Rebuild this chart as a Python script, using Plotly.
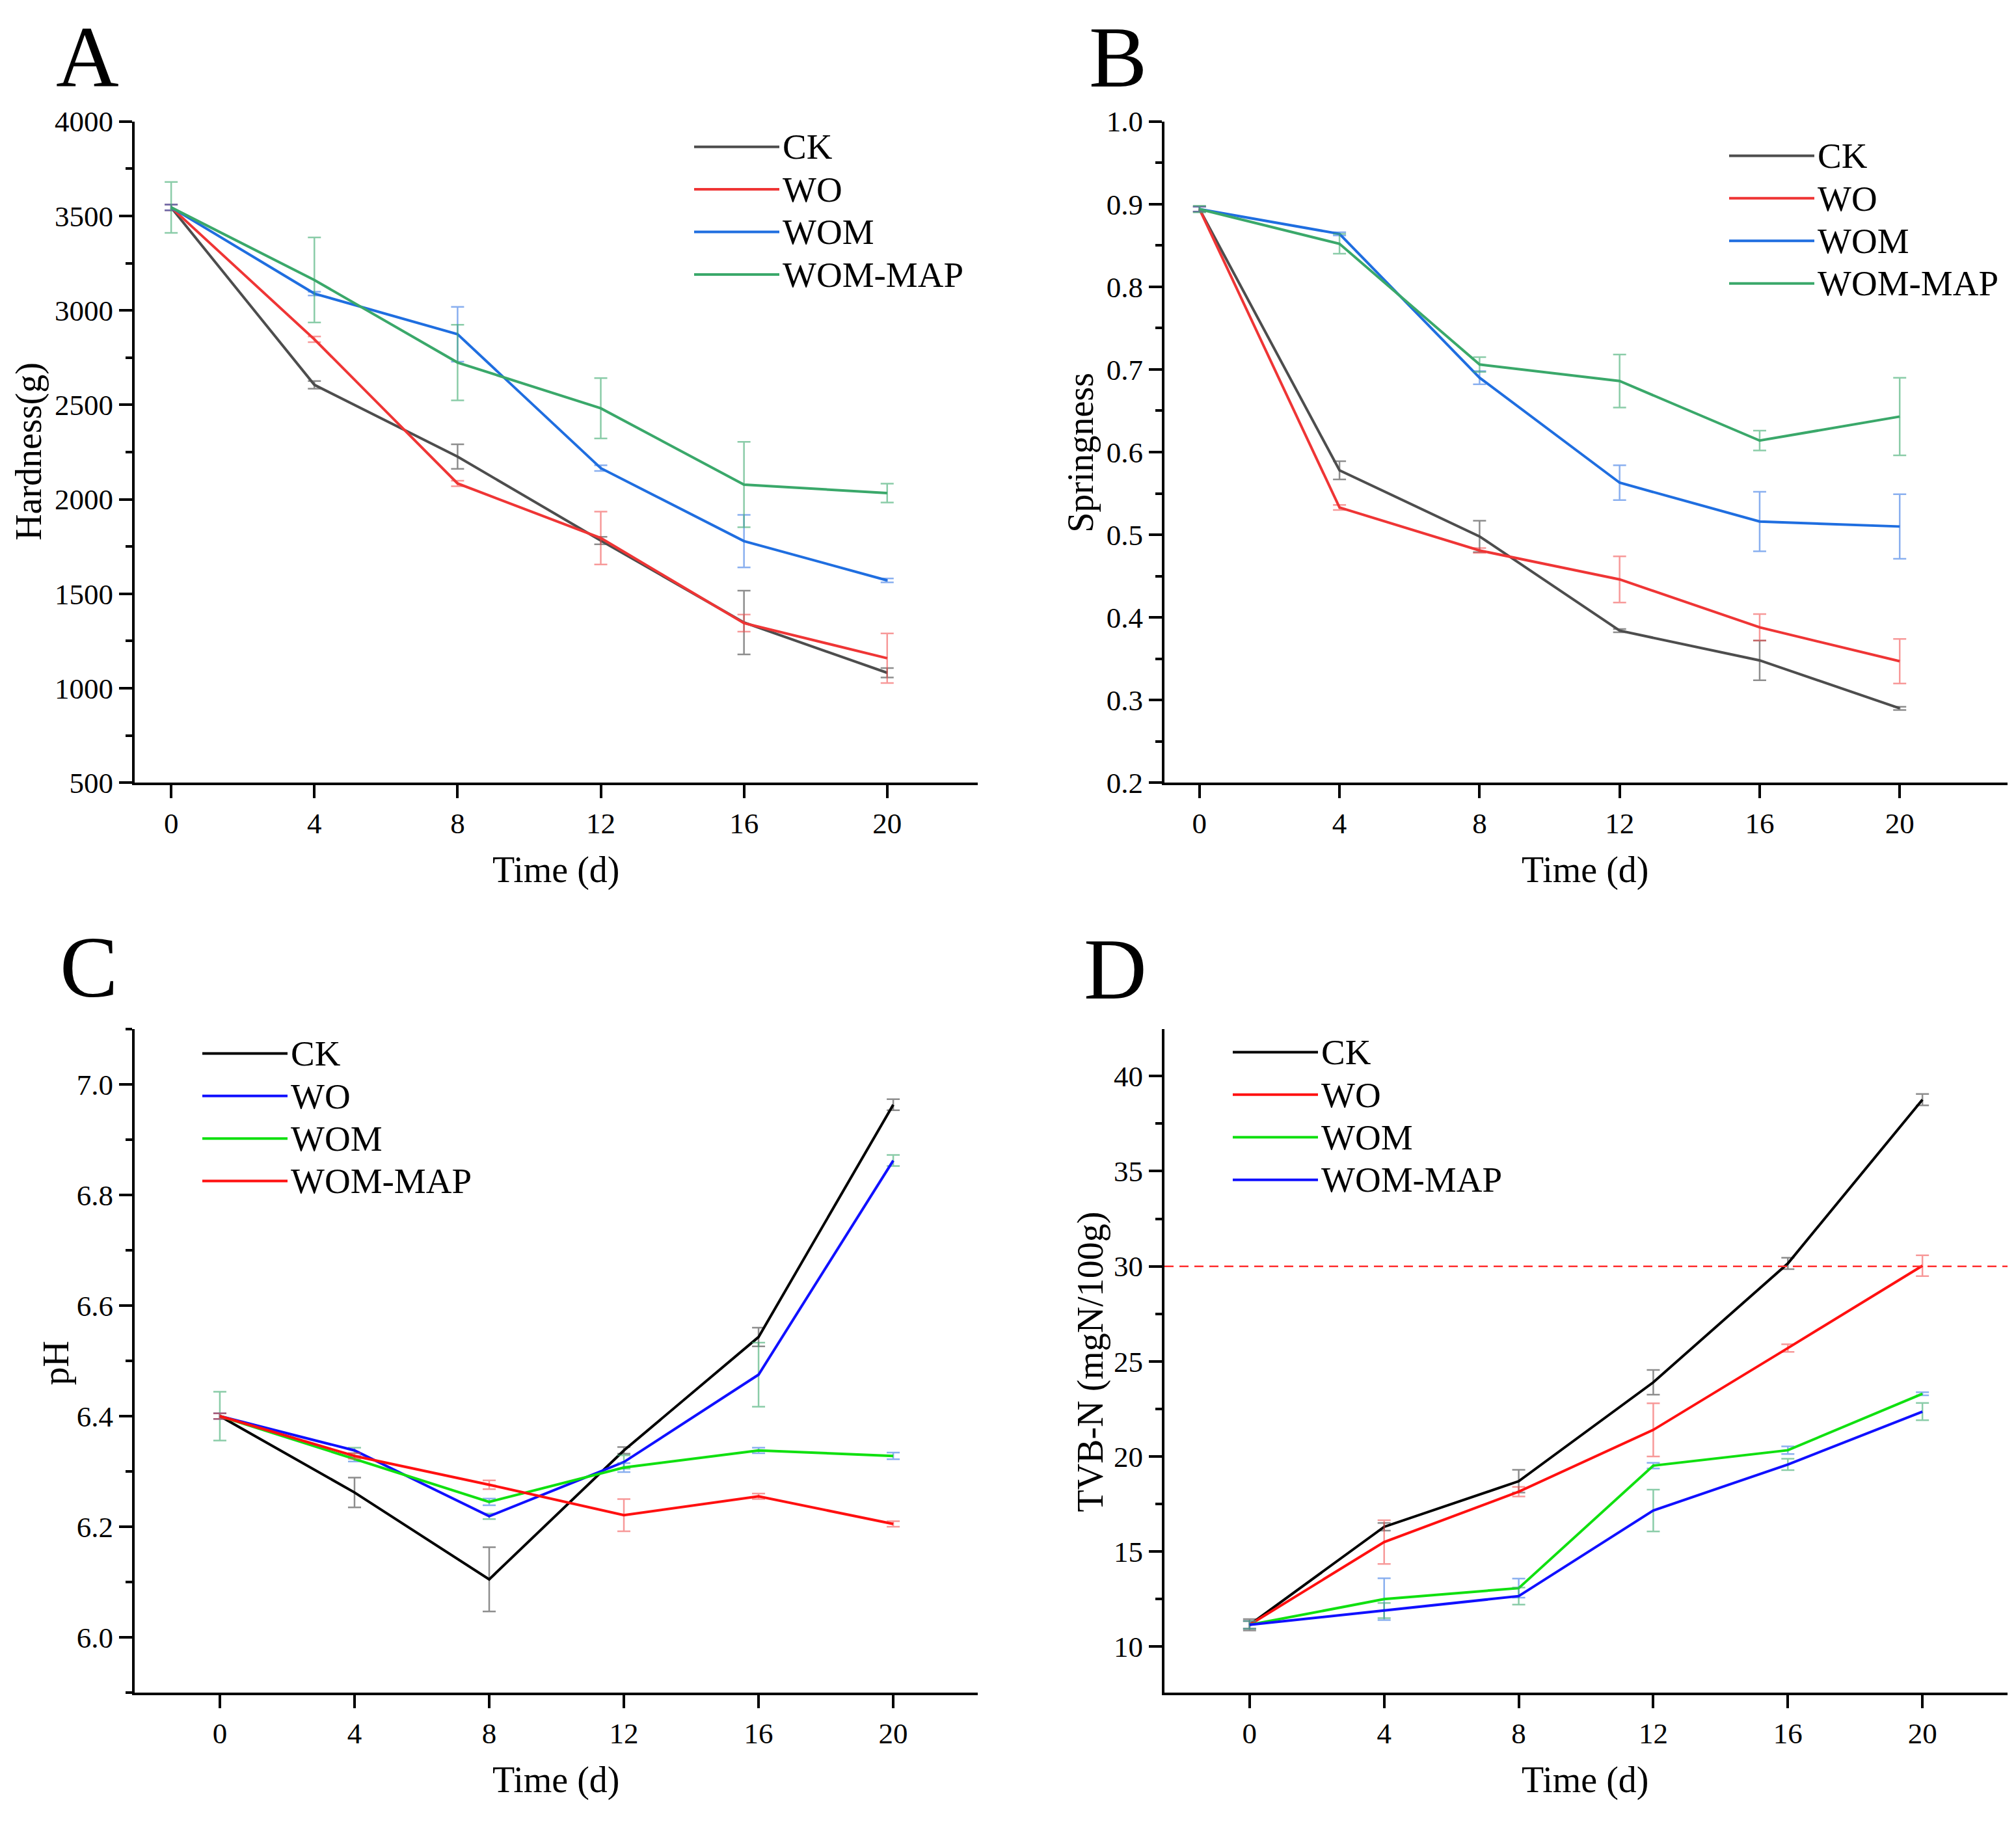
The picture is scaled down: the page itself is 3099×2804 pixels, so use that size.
import plotly.graph_objects as go

W, H = 3099, 2804
FONT = "Liberation Serif"

days = [0, 4, 8, 12, 16, 20]
groups = ["CK", "WO", "WOM", "WOM-MAP"]

# Panel A - Hardness (g)
hard_ck = [3545, 2606, 2226, 1782, 1348, 1082]
hard_ck_err = [15, 20, 65, 20, 169, 25]
hard_wo = [3545, 2847, 2084, 1795, 1345, 1159]
hard_wo_err = [15, 15, 15, 140, 45, 131]
hard_wom = [3545, 3089, 2874, 2165, 1779, 1571]
hard_wom_err = [15, 10, 145, 15, 139, 10]
hard_map = [3545, 3161, 2724, 2482, 2078, 2033]
hard_map_err = [135, 225, 200, 160, 226, 50]

# Panel B - Springness
spr_ck = [0.894, 0.578, 0.498, 0.384, 0.348, 0.290]
spr_ck_err = [0.003, 0.011, 0.019, 0.002, 0.024, 0.002]
spr_wo = [0.894, 0.533, 0.481, 0.446, 0.388, 0.347]
spr_wo_err = [0.003, 0.003, 0.003, 0.028, 0.016, 0.027]
spr_wom = [0.894, 0.864, 0.690, 0.563, 0.516, 0.510]
spr_wom_err = [0.003, 0.002, 0.008, 0.021, 0.036, 0.039]
spr_map = [0.894, 0.852, 0.706, 0.686, 0.614, 0.643]
spr_map_err = [0.004, 0.012, 0.009, 0.032, 0.012, 0.047]

# Panel C - pH
ph_ck = [6.400, 6.262, 6.105, 6.338, 6.543, 6.963]
ph_ck_err = [0.005, 0.027, 0.058, 0.006, 0.017, 0.010]
ph_wo = [6.400, 6.338, 6.219, 6.317, 6.475, 6.862]
ph_wo_err = [0.044, 0.005, 0.005, 0.012, 0.058, 0.010]
ph_wom = [6.400, 6.323, 6.245, 6.307, 6.338, 6.328]
ph_wom_err = [0.005, 0.005, 0.006, 0.008, 0.005, 0.006]
ph_map = [6.400, 6.328, 6.276, 6.221, 6.255, 6.205]
ph_map_err = [0.005, 0.005, 0.008, 0.029, 0.005, 0.005]

# Panel D - TVB-N (mgN/100g)
tvb_ck = [11.15, 16.3, 18.7, 23.9, 30.15, 38.76]
tvb_ck_err = [0.3, 0.2, 0.6, 0.65, 0.3, 0.3]
tvb_wo = [11.15, 15.5, 18.15, 21.4, 25.7, 30.03]
tvb_wo_err = [0.2, 1.15, 0.25, 1.4, 0.2, 0.55]
tvb_wom = [11.15, 12.5, 13.08, 19.52, 20.33, 23.3]
tvb_wom_err = [0.2, 1.1, 0.5, 0.15, 0.2, 0.08]
tvb_map = [11.15, 11.9, 12.66, 17.16, 19.58, 22.36]
tvb_map_err = [0.2, 0.4, 0.45, 1.1, 0.3, 0.45]
tvb_limit = 30

# colours
GRAY, RED1, BLUE1, GREEN1 = "#4d4d4d", "#ef3535", "#1f6ee0", "#3aa86a"
E_GRAY, E_RED, E_BLUE, E_GREEN = ("rgba(80,80,80,0.65)", "rgba(240,70,70,0.55)",
                                  "rgba(40,110,225,0.55)", "rgba(60,170,110,0.6)")
BLACK, BLUE2, GREEN2, RED2 = "#000000", "#1010ff", "#10e010", "#ff1010"


def px(x):
    return x / W


def py(y):
    return 1 - y / H


fig = go.Figure()

panels = [
    dict(xa="x", ya="y", leg="legend",
         series=[(hard_ck, hard_ck_err, GRAY, E_GRAY), (hard_wo, hard_wo_err, RED1, E_RED),
                 (hard_wom, hard_wom_err, BLUE1, E_BLUE), (hard_map, hard_map_err, GREEN1, E_GREEN)]),
    dict(xa="x2", ya="y2", leg="legend2",
         series=[(spr_ck, spr_ck_err, GRAY, E_GRAY), (spr_wo, spr_wo_err, RED1, E_RED),
                 (spr_wom, spr_wom_err, BLUE1, E_BLUE), (spr_map, spr_map_err, GREEN1, E_GREEN)]),
    dict(xa="x3", ya="y3", leg="legend3",
         series=[(ph_ck, ph_ck_err, BLACK, E_GRAY), (ph_wo, ph_wo_err, BLUE2, E_GREEN),
                 (ph_wom, ph_wom_err, GREEN2, E_BLUE), (ph_map, ph_map_err, RED2, E_RED)]),
    dict(xa="x4", ya="y4", leg="legend4",
         series=[(tvb_ck, tvb_ck_err, BLACK, E_GRAY), (tvb_wo, tvb_wo_err, RED2, E_RED),
                 (tvb_wom, tvb_wom_err, GREEN2, E_BLUE), (tvb_map, tvb_map_err, BLUE2, E_GREEN)]),
]

for p in panels:
    for name, (vals, errs, col, ecol) in zip(groups, p["series"]):
        fig.add_trace(go.Scatter(
            x=days, y=vals, name='<span style="font-size:55px">%s</span>' % name,
            mode="lines", line=dict(color=col, width=4),
            error_y=dict(type="data", array=errs, visible=True, color=ecol,
                         thickness=2.5, width=10),
            xaxis=p["xa"], yaxis=p["ya"], legend=p["leg"],
        ))

# reference line (TVB-N limit)
fig.add_shape(type="line", xref="x4 domain", yref="y4", x0=0, x1=1,
              y0=tvb_limit, y1=tvb_limit,
              line=dict(color="#ff3030", width=2.5, dash="14px,9px"))

axis_common = dict(showline=True, linecolor="black", linewidth=4, mirror=False,
                   showgrid=False, zeroline=False, ticks="outside", ticklen=20,
                   tickwidth=3.5, tickcolor="black",
                   tickfont=dict(family=FONT, size=45, color="black"))
minor_common = dict(ticklen=10, tickwidth=3.5, ticks="outside", tickcolor="black")

xdom_l = [px(207), px(1503)]
xdom_r = [px(1790), px(3086)]
ydom_t = [py(1200.7), py(165.7)]
ydom_b = [py(2625), py(1586)]

xticks = dict(tickmode="array", tickvals=days, ticktext=[str(d) for d in days])

fig.update_layout(
    width=W, height=H, margin=dict(l=0, r=0, t=0, b=0),
    paper_bgcolor="white", plot_bgcolor="white",
    font=dict(family=FONT, color="black"),
    xaxis=dict(domain=xdom_l, range=[-1.02, 22.53], anchor="y", **xticks, **axis_common),
    yaxis=dict(domain=ydom_t, range=[500, 4000], anchor="x", dtick=500, tick0=500,
               tickformat="d", minor=dict(dtick=250, **minor_common), **axis_common),
    xaxis2=dict(domain=xdom_r, range=[-1.0, 23.08], anchor="y2", **xticks, **axis_common),
    yaxis2=dict(domain=ydom_t, range=[0.2, 1.0], anchor="x2", dtick=0.1, tick0=0.2,
                tickformat=".1f", minor=dict(dtick=0.05, **minor_common), **axis_common),
    xaxis3=dict(domain=xdom_l, range=[-2.53, 22.51], anchor="y3", **xticks, **axis_common),
    yaxis3=dict(domain=ydom_b, range=[5.9, 7.1], anchor="x3", dtick=0.2, tick0=6.0,
                tickformat=".1f", minor=dict(dtick=0.1, **minor_common), **axis_common),
    xaxis4=dict(domain=xdom_r, range=[-2.53, 22.53], anchor="y4", **xticks, **axis_common),
    yaxis4=dict(domain=ydom_b, range=[7.58, 42.48], anchor="x4", dtick=5, tick0=10,
                tickformat="d", minor=dict(dtick=2.5, **minor_common), **axis_common),
)

leg_common = dict(font=dict(family=FONT, size=48, color="black"), bgcolor="rgba(0,0,0,0)",
                  borderwidth=0, itemwidth=131, tracegroupgap=0, xanchor="left", yanchor="top",
                  traceorder="normal")
fig.update_layout(
    legend=dict(x=px(1062), y=py(167), **leg_common),
    legend2=dict(x=px(2653), y=py(181), **leg_common),
    legend3=dict(x=px(306), y=py(1586), **leg_common),
    legend4=dict(x=px(1890), y=py(1584), **leg_common),
)

annotations = []
# panel letters
for txt, cx, cy in [("A", 134, 64), ("B", 1718, 65), ("C", 136, 1490), ("D", 1714, 1493)]:
    annotations.append(dict(text=txt, x=px(cx), y=py(cy), xref="paper", yref="paper",
                            showarrow=False, xanchor="center", yanchor="middle",
                            font=dict(family=FONT, size=134, color="black")))
# x-axis titles
for cx, cy in [(855, 1337), (2437, 1337), (855, 2762), (2437, 2762)]:
    annotations.append(dict(text="Time (d)", x=px(cx), y=py(cy), xref="paper", yref="paper",
                            showarrow=False, xanchor="center", yanchor="middle",
                            font=dict(family=FONT, size=56, color="black")))
# y-axis titles
for txt, cx, cy in [("Hardness(g)", 45, 682), ("Springness", 1661, 684),
                    ("pH", 86, 2109), ("TVB-N (mgN/100g)", 1676, 2107)]:
    annotations.append(dict(text=txt, x=px(cx), y=py(cy), xref="paper", yref="paper",
                            showarrow=False, xanchor="center", yanchor="middle", textangle=-90,
                            font=dict(family=FONT, size=56, color="black")))
fig.update_layout(annotations=annotations)

fig.write_html("out.html", config={"displayModeBar": False},
               post_script="document.body.style.margin='0';")
